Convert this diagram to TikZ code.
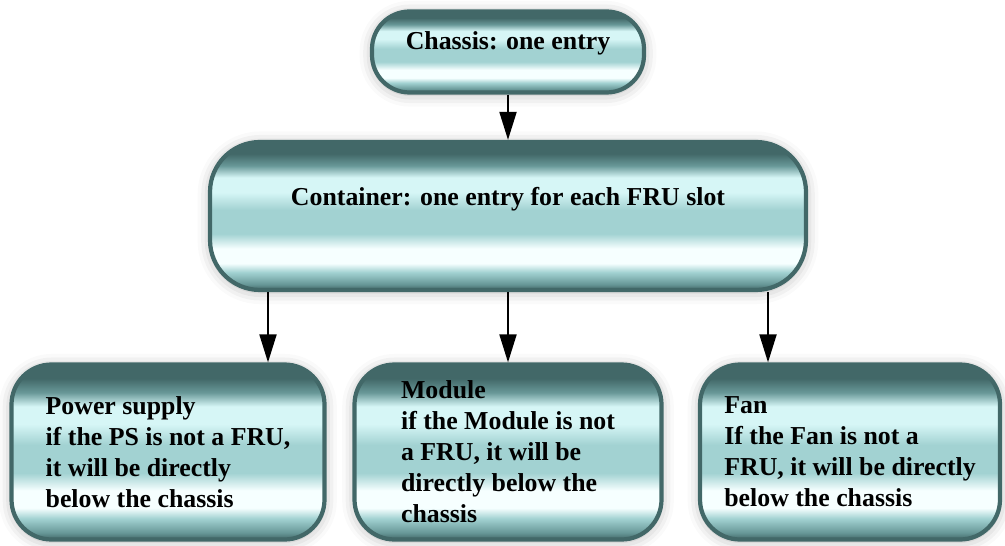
\documentclass[tikz,border=0pt]{standalone}
\usepackage{fontspec}
\setmainfont{Liberation Serif}
\usetikzlibrary{arrows.meta,shadows.blur}

\definecolor{edgeteal}{RGB}{66,104,104}
\definecolor{darkteal}{RGB}{104,152,152}
\definecolor{midteal}{RGB}{162,210,210}
\definecolor{lightteal}{RGB}{214,246,246}
\definecolor{glint}{RGB}{246,255,255}
\pgfdeclareverticalshading{glossy}{100bp}{color(0bp)=(edgeteal); color(25bp)=(edgeteal); color(27bp)=(darkteal); color(31bp)=(midteal); color(34bp)=(glint); color(39bp)=(glint); color(44bp)=(midteal); color(52bp)=(midteal); color(58bp)=(lightteal); color(63bp)=(lightteal); color(67bp)=(darkteal); color(71bp)=(edgeteal); color(75bp)=(edgeteal); color(100bp)=(edgeteal)}

\tikzstyle{pill} = [rectangle, rounded corners=0.8cm, shade, shading=glossy, draw=edgeteal, line width=2.4pt, blur shadow={shadow xshift=0pt, shadow yshift=-1pt, shadow blur radius=7pt, shadow opacity=30}, font=\fontsize{14.7}{17.6}\selectfont\bfseries, align=left]
\tikzstyle{arrow} = [line width=1.1pt, ->, >={Triangle[length=0.56cm,width=0.34cm]}]

\begin{document}
\begin{tikzpicture}[node distance=3.28cm]
\useasboundingbox (0,0) rectangle (20.1,-10.92);

\node (chassis) [pill, rounded corners=0.75cm, minimum width=5.44cm, minimum height=1.62cm, text depth=0.45cm] at (10.16,-1.04) {Chassis: one entry};

\node (container) [pill, rounded corners=1cm, below of=chassis, minimum width=11.92cm, minimum height=2.96cm, text depth=0.8cm] {Container: one entry for each FRU slot};

\node (module) [pill, below of=container, yshift=-1.44cm, minimum width=6.14cm, minimum height=3.5cm] {Module\\ if the Module is not\\ a FRU, it will be\\ directly below the\\ chassis};
\node (powersupply) [pill, left of=module, xshift=-3.52cm, minimum width=6.26cm, minimum height=3.5cm] {Power supply\\ if the PS is not a FRU,\\ it will be directly\\ below the chassis};
\node (fan) [pill, right of=module, xshift=3.56cm, minimum width=6cm, minimum height=3.5cm] {Fan\\ If the Fan is not a\\ FRU, it will be directly\\ below the chassis};

\draw [arrow] (chassis) -- (container);
\draw [arrow] ([xshift=-4.8cm]container.south) -- ([xshift=-4.8cm]container.south |- powersupply.north);
\draw [arrow] (container) -- (module);
\draw [arrow] ([xshift=5.2cm]container.south) -- ([xshift=5.2cm]container.south |- fan.north);

\end{tikzpicture}
\end{document}
